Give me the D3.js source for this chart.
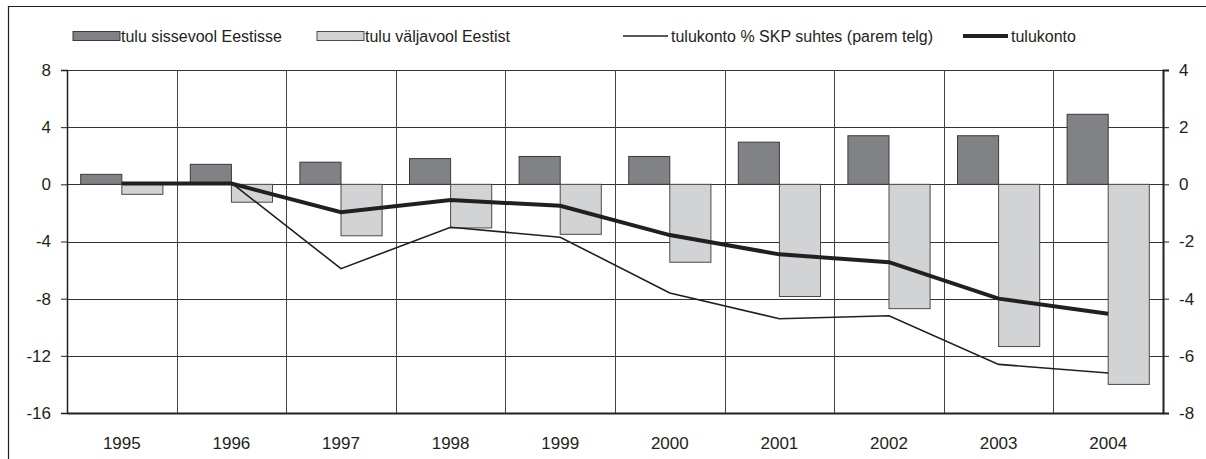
<!DOCTYPE html>
<html>
<head>
<meta charset="utf-8">
<script src="https://cdn.jsdelivr.net/npm/d3@7"></script>
<style>
  body { margin: 0; background: #fff; }
  svg { display: block; font-family: "Liberation Sans", Arial, sans-serif; }
</style>
</head>
<body>
<script>
(function(){

    //chart data
    var years = ["1995", "1996", "1997", "1998", "1999", "2000", "2001", "2002", "2003", "2004"];
    var inflow = [0.7, 1.4, 1.55, 1.8, 1.95, 1.95, 2.95, 3.4, 3.4, 4.9];          //tulu sissevool Eestisse
    var outflow = [-0.7, -1.25, -3.6, -3.05, -3.5, -5.45, -7.85, -8.7, -11.35, -14.0]; //tulu väljavool Eestist
    var balance = [0.05, 0.05, -1.95, -1.1, -1.5, -3.55, -4.9, -5.45, -8.0, -9.05];    //tulukonto
    var balanceGdp = [0.05, 0.05, -2.95, -1.5, -1.85, -3.8, -4.7, -4.6, -6.3, -6.6];   //tulukonto % SKP suhtes
    var leftTicks = [8, 4, 0, -4, -8, -12, -16];
    var rightTicks = [4, 2, 0, -2, -4, -6, -8];
    var seriesNames = ["tulu sissevool Eestisse", "tulu väljavool Eestist", "tulukonto % SKP suhtes (parem telg)", "tulukonto"];

    var width = 1206, height = 459;
    var margin = {top: 70, right: 43, bottom: 46, left: 67};
    var innerW = width - margin.left - margin.right,
        innerH = height - margin.top - margin.bottom;

    var svg = d3.select("body").append("svg")
        .attr("width", width)
        .attr("height", height);

    //outer frame (left + top only visible)
    svg.append("path")
        .attr("d", "M8.5," + height + "V6.5H" + width)
        .attr("fill", "none")
        .attr("stroke", "#231f20")
        .attr("stroke-width", 1.2);

    var g = svg.append("g").attr("transform", "translate(" + margin.left + "," + margin.top + ")");

    var x = d3.scaleBand().domain(years).range([0, innerW]);
    var yL = d3.scaleLinear().domain([-16, 8]).range([innerH, 0]);
    var yR = d3.scaleLinear().domain([-8, 4]).range([innerH, 0]);

    //grid
    g.selectAll(".hgrid").data(leftTicks).enter().append("line")
        .attr("x1", 0).attr("x2", innerW)
        .attr("y1", function(d){ return Math.round(yL(d)) + 0.5; })
        .attr("y2", function(d){ return Math.round(yL(d)) + 0.5; })
        .attr("stroke", "#333").attr("stroke-width", 1);

    g.selectAll(".vgrid").data(years.slice(1)).enter().append("line")
        .attr("x1", function(d){ return Math.round(x(d)) + 0.5; })
        .attr("x2", function(d){ return Math.round(x(d)) + 0.5; })
        .attr("y1", 0).attr("y2", innerH)
        .attr("stroke", "#444").attr("stroke-width", 1);

    //bars
    var bw = x.bandwidth() * 0.375;
    var c = function(d){ return x(d) + x.bandwidth() / 2; };

    g.selectAll(".inflow").data(years).enter().append("rect")
        .attr("x", function(d){ return c(d) - bw; })
        .attr("width", bw)
        .attr("y", function(d, i){ return yL(inflow[i]); })
        .attr("height", function(d, i){ return yL(0) - yL(inflow[i]); })
        .attr("fill", "#808285").attr("stroke", "#3a3a3a").attr("stroke-width", 1);

    g.selectAll(".outflow").data(years).enter().append("rect")
        .attr("x", function(d){ return c(d); })
        .attr("width", bw)
        .attr("y", yL(0))
        .attr("height", function(d, i){ return yL(outflow[i]) - yL(0); })
        .attr("fill", "#d1d3d4").attr("stroke", "#4a4a4a").attr("stroke-width", 1);

    //lines
    var lineL = d3.line().x(function(d, i){ return c(years[i]); }).y(function(d){ return yL(d); });
    var lineR = d3.line().x(function(d, i){ return c(years[i]); }).y(function(d){ return yR(d); });

    g.append("path").datum(balanceGdp)
        .attr("d", lineR).attr("fill", "none")
        .attr("stroke", "#231f20").attr("stroke-width", 1.6);

    g.append("path").datum(balance)
        .attr("d", lineL).attr("fill", "none")
        .attr("stroke", "#231f20").attr("stroke-width", 4);

    //axes (plain hyphen minus like the original)
    var fmt = function(d){ return String(d); };
    var axL = g.append("g").call(d3.axisLeft(yL).tickValues(leftTicks).tickFormat(fmt).tickSize(6).tickPadding(10));
    var axR = g.append("g").attr("transform", "translate(" + innerW + ",0)")
        .call(d3.axisRight(yR).tickValues(rightTicks).tickFormat(fmt).tickSize(6).tickPadding(10));
    var axB = g.append("g").attr("transform", "translate(0," + innerH + ")")
        .call(d3.axisBottom(x).tickSize(0).tickPadding(24));

    [axL, axR, axB].forEach(function(a){
        a.attr("font-size", 17).attr("font-family", "Liberation Sans, Arial, sans-serif");
        a.selectAll("text").attr("fill", "#231f20");
        a.selectAll("line").attr("stroke", "#231f20");
        a.select(".domain").attr("stroke", "#231f20");
    });
    axL.select(".domain").attr("stroke-width", 1.5);
    axR.select(".domain").attr("stroke-width", 2);
    axB.select(".domain").attr("stroke-width", 2);

    //legend
    var legend = svg.append("g").attr("transform", "translate(0,36)");
    var items = [
        {x: 73, type: "box", fill: "#808285", stroke: "#3a3a3a"},
        {x: 317, type: "box", fill: "#d1d3d4", stroke: "#4a4a4a"},
        {x: 623, type: "line", w: 1.6},
        {x: 963, type: "line", w: 4}
    ];
    items.forEach(function(it, i){
        if (it.type == "box") {
            legend.append("rect").attr("x", it.x).attr("y", -4.5).attr("width", 47).attr("height", 9)
                .attr("fill", it.fill).attr("stroke", it.stroke).attr("stroke-width", 1);
        } else {
            legend.append("line").attr("x1", it.x).attr("x2", it.x + 45).attr("y1", 0).attr("y2", 0)
                .attr("stroke", "#231f20").attr("stroke-width", it.w);
        }
        legend.append("text").attr("x", it.x + 48).attr("y", 0).attr("dy", "0.35em")
            .attr("font-size", 16).attr("fill", "#231f20")
            .text(seriesNames[i]);
    });

})();
</script>
</body>
</html>
